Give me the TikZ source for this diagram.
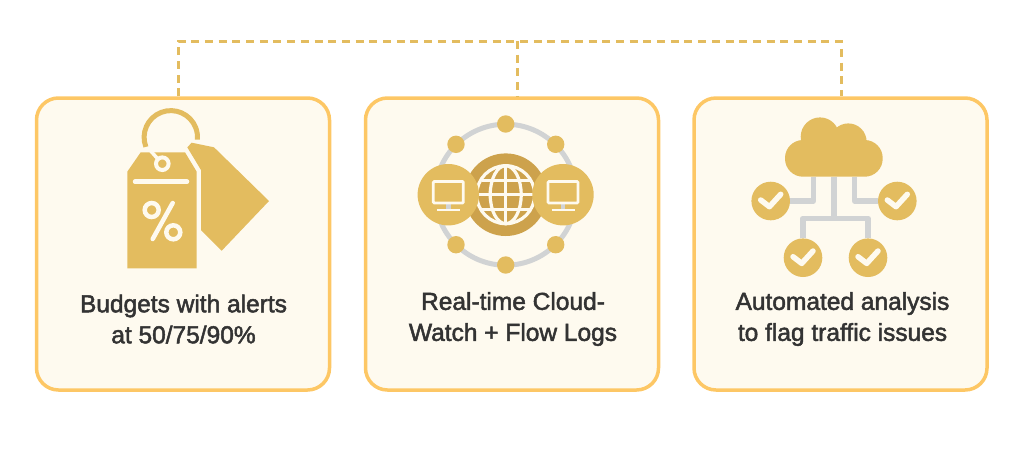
\documentclass[tikz,border=0pt]{standalone}
\usepackage{fontspec}
\setmainfont{Liberation Sans}[FakeBold=2]
\usetikzlibrary{positioning}
\definecolor{cardfill}{HTML}{FEFAEF}
\definecolor{cardline}{HTML}{FDC765}
\definecolor{icongold}{HTML}{E3BC5F}
\definecolor{icondark}{HTML}{CDA24C}
\definecolor{icongrey}{HTML}{D1D3D4}
\definecolor{labeltext}{HTML}{333333}

\begin{document}
\begin{tikzpicture}[x=1pt,y=-1pt,
    card/.style={draw=cardline,fill=cardfill,line width=3.5pt,rounded corners=22pt,minimum width=293pt,minimum height=292pt},
    caption/.style={text=labeltext,align=center,font=\fontsize{24.5}{31}\selectfont},
    link/.style={draw=icongold,line width=3pt,dash pattern=on 8pt off 5.7pt},
    wire/.style={draw=icongrey,line width=5.5pt,line join=round},
    checkdot/.style={circle,fill=icongold,minimum size=38.6pt,inner sep=0pt},
    smalldot/.style={circle,fill=icongold,minimum size=17.4pt,inner sep=0pt},
    pcdot/.style={circle,fill=icongold,minimum size=61.4pt,inner sep=0pt},
    cut/.style={draw=cardfill,line cap=round}]
    \useasboundingbox (0,0) rectangle (1024,448);
    \node[card] (budgets) at (183,244) {};
    \node[card] (realtime) at (512,244) {};
    \node[card] (analysis) at (840.5,244) {};
    \coordinate (topa) at (178,41);
    \coordinate (topb) at (517,41);
    \coordinate (topc) at (841,41);
    \draw[link] (budgets.north -| topa) -- (topa) -- (topc) -- (budgets.north -| topc);
    \draw[link] (topb) -- (realtime.north -| topb);
    \node[caption] (budgetstext) at (183.5,319) {Budgets with alerts\\at 50/75/90\%};
    \node[caption] (realtimetext) at (513,319) {Real-time Cloud-\\Watch + Flow Logs};
    \node[caption] (analysistext) at (842.5,319) {Automated analysis\\to flag traffic issues};

    \draw[icongold,line width=5pt] (170.8,137.3) ++(159:26.7) arc[start angle=159,end angle=365,radius=26.7];
    \fill[icongold] (187.3,147.3) -- (191.7,142.7) -- (214,147.3) -- (269,201) -- (221.7,250.7) -- (201,230) -- (201,170) -- cycle;
    \fill[icongold] (127.3,171.7) -- (140.7,152.3) -- (185,152.3) -- (196.7,171.7) -- (196.7,268.3) -- (127.3,268.3) -- cycle;
    \draw[cut,line width=3.5pt] (149,149) -- (157,158);
    \draw[cut,line width=4pt] (162.3,163.7) circle (6.3);
    \draw[cut,line width=4.5pt] (135,181.7) -- (187,181.7);
    \draw[cut,line width=4.5pt] (151.7,210) circle (7) (173.3,232.3) circle (7);
    \draw[cut,line width=4.5pt] (172.7,203) -- (152.7,239);

    \draw[icongrey,line width=5pt] (505.7,194.7) circle (70.5);
    \foreach \px/\py/\pname in {505.7/124/n, 456/144.3/nw, 555.7/144.3/ne, 456/244.7/sw, 555.7/244.7/se, 505.7/265/s}
        \node[smalldot] (dot\pname) at (\px,\py) {};
    \fill[icondark] (505.7,194.7) circle (41.3);
    \begin{scope}[draw=cardfill,line width=3.2pt]
        \draw (505.7,194.7) circle (29);
        \draw (505.7,194.7) ellipse (15.5 and 29);
        \draw (505.7,165.7) -- (505.7,223.7);
        \draw (476.7,194.7) -- (534.7,194.7);
        \draw (481.7,180.2) -- (529.7,180.2);
        \draw (481.7,209.2) -- (529.7,209.2);
    \end{scope}
    \foreach \px/\pname in {448.3/left, 563/right} {
        \node[pcdot] (pc\pname) at (\px,194.7) {};
        \fill[icongrey] (\px-2.3,204) rectangle (\px+2.3,209);
        \draw[cardfill,line width=2.8pt,rounded corners=1pt] (\px-15,181.5) rectangle (\px+15,203);
        \draw[cardfill,line width=2pt] (\px-11.5,210) -- (\px+11.5,210);
    }

    \fill[icongold,rounded corners=18pt] (785,140) rectangle (882.7,176.7);
    \fill[icongold] (820,136.7) circle (19.3) (848.3,141.7) circle (18.3);
    \fill[icongold] (803,145) rectangle (864,165);
    \node[checkdot] (checka) at (770.7,201) {};
    \node[checkdot] (checkb) at (897.3,201) {};
    \node[checkdot] (checkc) at (803,257.7) {};
    \node[checkdot] (checkd) at (868,257.7) {};
    \coordinate (cloudbase) at (834,176.7);
    \coordinate (split) at (834,218.3);
    \draw[wire] (813.3,176.7) |- (checka);
    \draw[wire] (854.7,176.7) |- (checkb);
    \draw[wire] (cloudbase) -- (split);
    \draw[wire] (checkc) |- (split) -| (checkd);
    \foreach \cname in {a,b,c,d}
        \draw[cardfill,line width=5.5pt,line cap=round,line join=round] ([shift={(-10,-1)}]check\cname.center) -- ([shift={(-1.3,5.7)}]check\cname.center) -- ([shift={(10,-6.7)}]check\cname.center);
\end{tikzpicture}
\end{document}
